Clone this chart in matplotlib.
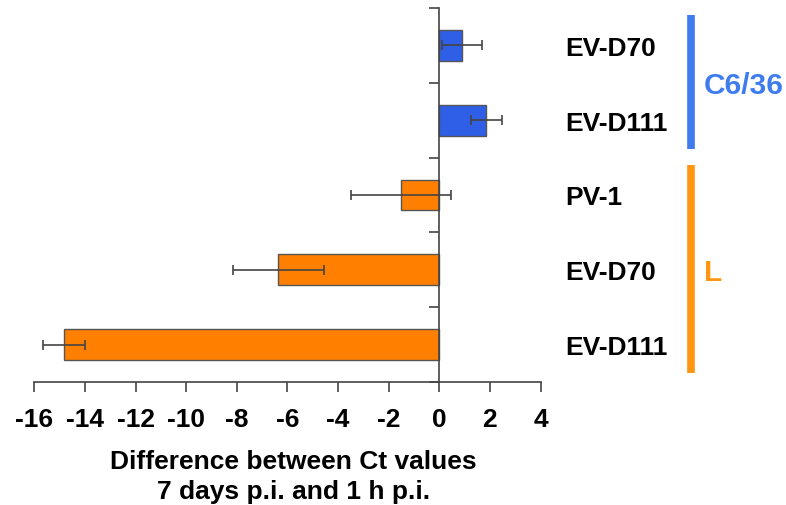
import matplotlib.pyplot as plt
import matplotlib.transforms as mtransforms

plt.rcParams['font.family'] = ['Liberation Sans', 'DejaVu Sans']
plt.rcParams['font.weight'] = 'bold'

# data (top to bottom)
labels = ['EV-D70', 'EV-D111', 'PV-1', 'EV-D70', 'EV-D111']
values = [0.9, 1.86, -1.5, -6.36, -14.82]
errors = [0.78, 0.6, 1.97, 1.8, 0.82]
groups = ['C6/36', 'C6/36', 'L', 'L', 'L']

group_names = ['C6/36', 'L']
bar_colors = {'C6/36': '#2F5FE6', 'L': '#FF8000'}
line_colors = {'C6/36': '#3F7DEE', 'L': '#FF9612'}

W, H = 786, 506
fig = plt.figure(figsize=(W / 100, H / 100), dpi=100)
ax = fig.add_axes([34.3 / W, 1 - 383 / H, (540.5 - 34.3) / W, (383 - 9) / H])

pos = list(range(len(labels)))
ax.barh(pos, values, height=0.41, color=[bar_colors[g] for g in groups],
        edgecolor='#555555', linewidth=1.0, zorder=2)
ax.errorbar(values, pos, xerr=errors, fmt='none', ecolor='#444444',
            elinewidth=1.2, capsize=3.5, capthick=1.2, zorder=3)

ax.set_xlim(-16, 4)
ax.set_ylim(len(labels) - 0.5, -0.5)
ax.set_xticks(range(-16, 5, 2))
ax.set_xticklabels([str(v) for v in range(-16, 5, 2)], fontsize=19, fontweight='bold')
ax.set_yticks([p - 0.5 for p in pos] + [len(labels) - 0.5])
ax.set_yticklabels([])

ax.spines['left'].set_position(('data', 0))
ax.spines['top'].set_visible(False)
ax.spines['right'].set_visible(False)
for s in ['left', 'bottom']:
    ax.spines[s].set_color('#444444')
    ax.spines[s].set_linewidth(1.2)
ax.tick_params(axis='x', direction='out', length=7, width=1.2, color='#444444', pad=11)
ax.tick_params(axis='y', direction='out', length=7, width=1.2, color='#444444')

ax.set_xlabel('Difference between Ct values\n7 days p.i. and 1 h p.i.',
              fontsize=19, fontweight='bold', linespacing=1.33)
ax.xaxis.set_label_coords(0.512, -0.178)
ax.xaxis.label.set_va('top')

# category labels on the right
trans = mtransforms.blended_transform_factory(ax.transAxes, ax.transData)
for p, lab in zip(pos, labels):
    ax.text(1.048, p, lab, transform=trans, ha='left', va='center_baseline',
            fontsize=19, fontweight='bold', color='black')

# group brackets
for g in group_names:
    idx = [p for p, gg in zip(pos, groups) if gg == g]
    y0, y1 = min(idx) - 0.4, max(idx) + 0.38
    ax.plot([1.297, 1.297], [y0, y1], transform=trans, color=line_colors[g],
            linewidth=5.5, solid_capstyle='butt', clip_on=False)
    ax.text(1.323, (y0 + y1) / 2, g, transform=trans, ha='left', va='center_baseline',
            fontsize=21.5, fontweight='bold', color=line_colors[g])

fig.savefig('out.png', dpi=100)
